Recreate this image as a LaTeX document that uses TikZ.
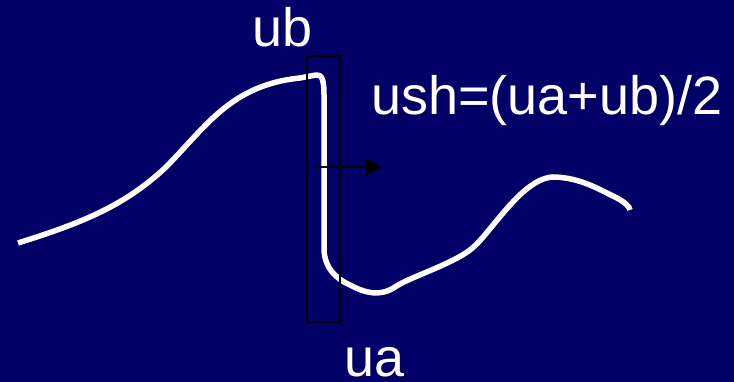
\documentclass[tikz,border=0pt]{standalone}
\usepackage{fontspec}
\setmainfont{Liberation Sans}
\usetikzlibrary{arrows.meta}
\definecolor{navy}{RGB}{0,0,102}

\begin{document}
\begin{tikzpicture}[x=1pt,y=-1pt,>=Triangle,
		lbl/.style={text=white,anchor=base,inner sep=0pt,font=\fontsize{54}{54}\selectfont},
		wave/.style={white,line width=5.5pt,line join=round}]
		
		% background
		\fill[navy] (0,0) rectangle (734,382);
		\useasboundingbox (0,0) rectangle (734,382);
		
		% shock profile
		\draw[wave] (18,243) .. controls (85,222) and (125,205) .. (165,168)
			.. controls (205,128) and (230,85) .. (300,78) -- (316,75)
			.. controls (322,74) and (324,80) .. (324,95) -- (324,250)
			.. controls (325,268) and (335,278) .. (350,285)
			.. controls (365,293) and (380,297) .. (395,287)
			.. controls (410,277) and (450,265) .. (470,250)
			.. controls (490,235) and (520,180) .. (552,177)
			.. controls (580,177) and (600,190) .. (615,197)
			.. controls (625,202) and (630,207) .. (630,210);
		
		% control volume around the jump
		\draw[black,line width=2pt] (307,56) rectangle (340,322);
		
		% shock speed
		\coordinate (s0) at (316,167);
		\coordinate (s1) at (382,167);
		\draw[black,line width=2pt,-{Triangle[length=17pt,width=17pt]}] (s0) -- (s1);
		
		% labels
		\node[lbl] (ub) at (283,47) {ub};
		\node[lbl,anchor=base west] (ush) at (371,115) {ush=(ua+ub)/2};
		\node[lbl] (ua) at (375,376) {ua};
		
	\end{tikzpicture}
\end{document}
